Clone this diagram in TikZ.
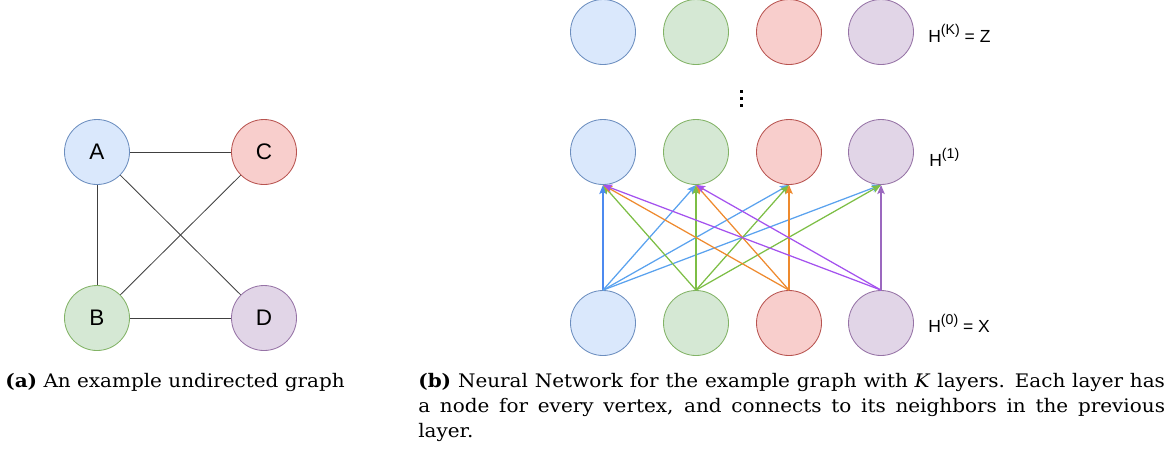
\documentclass[tikz,border=0pt]{standalone}
\usepackage{fontspec}
\setmainfont{DejaVu Serif}[FakeStretch=1.07]
\newfontfamily\sansfont{Liberation Sans}
\usetikzlibrary{arrows.meta}

\definecolor{fillA}{HTML}{DAE8FC}\definecolor{lineA}{HTML}{6C8EBF}
\definecolor{fillB}{HTML}{D5E8D4}\definecolor{lineB}{HTML}{82B366}
\definecolor{fillC}{HTML}{F8CECC}\definecolor{lineC}{HTML}{B85450}
\definecolor{fillD}{HTML}{E1D5E7}\definecolor{lineD}{HTML}{9673A6}
\definecolor{msgA}{HTML}{5AA2EE}
\definecolor{msgB}{HTML}{7DBE45}
\definecolor{msgC}{HTML}{EE8A2E}
\definecolor{msgD}{HTML}{A452EE}

\newcommand{\layersup}[1]{\raisebox{0.85ex}{\fontsize{8.5}{8.5}\selectfont(#1)}}

\begin{document}
\begin{tikzpicture}[x=0.6pt,y=-0.6pt,
	vertex/.style={circle, draw, minimum size=39pt, inner sep=0pt, line width=0.5pt, font=\sansfont\fontsize{13.5}{13.5}\selectfont},
	va/.style={vertex, fill=fillA, draw=lineA},
	vb/.style={vertex, fill=fillB, draw=lineB},
	vc/.style={vertex, fill=fillC, draw=lineC},
	vd/.style={vertex, fill=fillD, draw=lineD},
	edge/.style={black!75, line width=0.5pt},
	msg/.style={arrows={-Stealth[length=5.5pt,width=4.5pt,inset=1.2pt]}, line width=0.75pt},
	layer/.style={anchor=base west, inner sep=0pt, font=\sansfont\fontsize{10.5}{10.5}\selectfont},
	caption/.style={anchor=base west, inner sep=0pt, font=\fontsize{11.2}{15}\selectfont}]
	\useasboundingbox (0,0) rectangle (1175,454);

	% undirected graph
	\node [va] (A) at (97,152) {A};
	\node [vc] (C) at (264,152) {C};
	\node [vb] (B) at (97,318) {B};
	\node [vd] (D) at (264,318) {D};
	\draw [edge] (A) -- (C);
	\draw [edge] (A) -- (B);
	\draw [edge] (B) -- (D);
	\draw [edge] (A) -- (D);
	\draw [edge] (B) -- (C);

	% layers of the network
	\node [va] (ak) at (603,32) {};
	\node [vb] (bk) at (696,32) {};
	\node [vc] (ck) at (789,32) {};
	\node [vd] (dk) at (881,32) {};
	\node [va] (a1) at (603,152) {};
	\node [vb] (b1) at (696,152) {};
	\node [vc] (c1) at (789,152) {};
	\node [vd] (d1) at (881,152) {};
	\node [va] (a0) at (603,323) {};
	\node [vb] (b0) at (696,323) {};
	\node [vc] (c0) at (789,323) {};
	\node [vd] (d0) at (881,323) {};
	\foreach \y in {91,98,105}
		\fill (739.5,\y-1.5) rectangle +(3,3);

	\node [layer] (hk) at (928,42) {H\layersup{K} = Z};
	\node [layer] (h1) at (929,166) {H\layersup{1}};
	\node [layer] (h0) at (928,332) {H\layersup{0} = X};

	% messages from H0 to H1
	\draw [msg, msgA!85!blue] (a0.north) -- (a1.south);
	\draw [msg, msgA] (a0.north) -- (b1.south);
	\draw [msg, msgA] (a0.north) -- (c1.south);
	\draw [msg, msgA] (a0.north) -- (d1.south);
	\draw [msg, msgB] (b0.north) -- (a1.south);
	\draw [msg, msgB] (b0.north) -- (b1.south);
	\draw [msg, msgB] (b0.north) -- (c1.south);
	\draw [msg, msgB] (b0.north) -- (d1.south);
	\draw [msg, msgC] (c0.north) -- (a1.south);
	\draw [msg, msgC] (c0.north) -- (b1.south);
	\draw [msg, msgC] (c0.north) -- (c1.south);
	\draw [msg, msgD] (d0.north) -- (a1.south);
	\draw [msg, msgD] (d0.north) -- (b1.south);
	\draw [msg, msgD!35!lineD] (d0.north) -- (d1.south);

	% captions
	\node [caption] (capa) at (5,387) {\textbf{(a)} An example undirected graph};
	\node [caption, text width=448pt, align=justify] (capb) at (418,387) {\textbf{(b)} Neural Network for the example graph with \textit{K} layers. Each layer has\linebreak a node for every vertex, and connects to its neighbors in the previous\linebreak layer.};
\end{tikzpicture}
\end{document}
